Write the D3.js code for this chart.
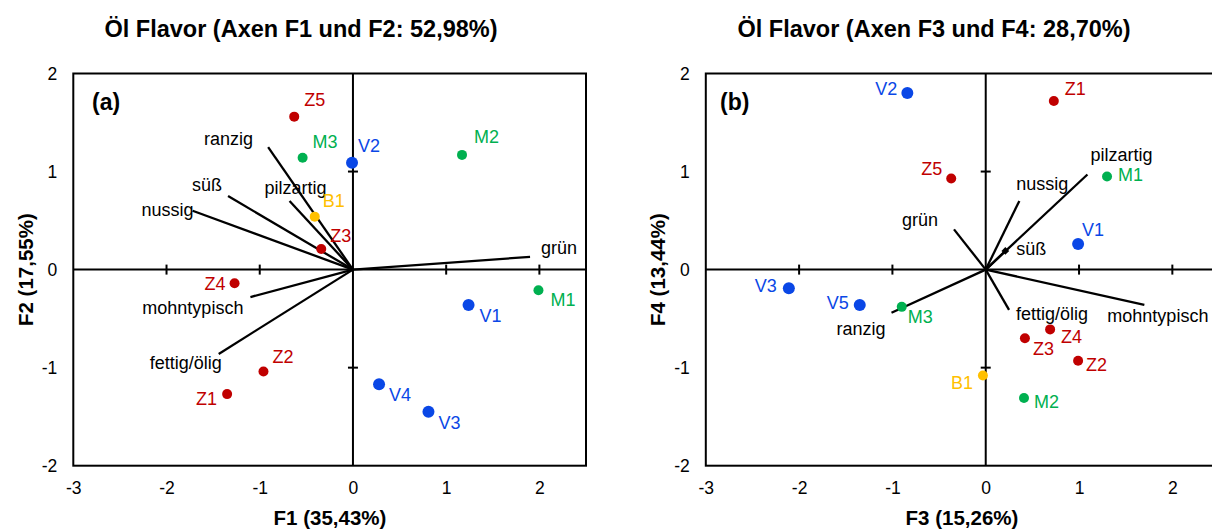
<!DOCTYPE html>
<html><head><meta charset="utf-8">
<script src="https://cdn.jsdelivr.net/npm/d3@7"></script>
<style>body{margin:0;background:#fff}svg{display:block;font-family:"Liberation Sans",Arial,sans-serif}</style>
</head><body><svg id="c" width="1212" height="531"></svg>
<script>
// ---- data ----
const ticksX = [-3, -2, -1, 0, 1, 2];
const ticksY = [-2, -1, 0, 1, 2];
const titles = ["Öl Flavor (Axen F1 und F2: 52,98%)", "Öl Flavor (Axen F3 und F4: 28,70%)"];
const xTitles = ["F1 (35,43%)", "F3 (15,26%)"];
const yTitles = ["F2 (17,55%)", "F4 (13,44%)"];
const panelTags = ["(a)", "(b)"];

const obsA = ["Z1","Z2","Z3","Z4","Z5","M1","M2","M3","V1","V2","V3","V4","B1"];
const obsAx = [-1.35,-0.96,-0.34,-1.27,-0.63,1.99,1.17,-0.54,1.24,-0.01,0.81,0.28,-0.41];
const obsAy = [-1.27,-1.04,0.21,-0.14,1.56,-0.21,1.17,1.14,-0.36,1.09,-1.45,-1.17,0.54];

const varA = ["grün","ranzig","pilzartig","süß","nussig","mohntypisch","fettig/ölig"];
const varAx = [1.90,-0.91,-0.68,-1.34,-1.72,-1.10,-1.44];
const varAy = [0.13,1.25,0.70,0.75,0.60,-0.28,-0.86];

const obsB = ["Z1","Z2","Z3","Z4","Z5","M1","M2","M3","V1","V2","V3","V5","B1"];
const obsBx = [0.73,0.99,0.42,0.69,-0.37,1.30,0.41,-0.90,0.99,-0.84,-2.11,-1.35,-0.03];
const obsBy = [1.72,-0.93,-0.70,-0.61,0.93,0.95,-1.31,-0.38,0.26,1.80,-0.19,-0.36,-1.08];

const varB = ["grün","ranzig","pilzartig","süß","nussig","mohntypisch","fettig/ölig"];
const varBx = [-0.34,-1.01,1.09,0.21,0.36,1.70,0.25];
const varBy = [0.41,-0.44,0.97,0.19,0.70,-0.36,-0.41];

// ---- layout / style ----
const colors = {Z:"#c00000", M:"#00b050", V:"#0a47e6", B:"#ffc000"};
const radius = {Z:5, M:5, V:6, B:5};
const obsLabA = {Z1:[-10,11,"end"],Z2:[9,-9,"start"],Z3:[9,-7,"start"],Z4:[-9,7,"end"],Z5:[10,-11,"start"],
  M1:[12,16,"start"],M2:[12,-12,"start"],M3:[10,-10,"start"],V1:[11,17,"start"],V2:[6,-11,"start"],
  V3:[10,17,"start"],V4:[10,17,"start"],B1:[8,-10,"start"]};
const obsLabB = {Z1:[11,-6,"start"],Z2:[8,10,"start"],Z3:[8,17,"start"],Z4:[11,14,"start"],Z5:[-9,-3,"end"],
  M1:[11,5,"start"],M2:[10,10,"start"],M3:[6,16,"start"],V1:[4,-8,"start"],V2:[-10,2,"end"],
  V3:[-12,4,"end"],V5:[-11,4,"end"],B1:[-10,14,"end"]};
const varLabA = {"ranzig":[-15,-2,"end"],"pilzartig":[-25,-7,"start"],"süß":[-6,-5,"end"],"nussig":[1,5,"end"],
  "grün":[11,-3,"start"],"mohntypisch":[-7,17,"end"],"fettig/ölig":[3,15,"end"]};
const varLabB = {"pilzartig":[3,-13,"start"],"nussig":[-3,-11,"start"],"grün":[-16,-3,"end"],"süß":[11,4,"start"],
  "mohntypisch":[-37,17,"start"],"fettig/ölig":[7,10,"start"],"ranzig":[-6,22,"end"]};

const panels = [
  {x0:73.3, x1:586, obs:obsA, ox:obsAx, oy:obsAy, vars:varA, vx:varAx, vy:varAy, oLab:obsLabA, vLab:varLabA,
   titleX:301, xTitleX:330, yTitleX:33, tagX:92, marker:null},
  {x0:705.8, x1:1219, obs:obsB, ox:obsBx, oy:obsBy, vars:varB, vx:varBx, vy:varBy, oLab:obsLabB, vLab:varLabB,
   titleX:934, xTitleX:962, yTitleX:665, tagX:720, marker:"süß"}
];
const yTop = 73.5, yBot = 465.7;
const svg = d3.select("#c");
const fmt = d => String(d);

panels.forEach((p, i) => {
  const x = d3.scaleLinear().domain([-3, 2.5]).range([p.x0, p.x1]);
  const y = d3.scaleLinear().domain([-2, 2]).range([yBot, yTop]);
  const g = svg.append("g");

  // title
  g.append("text").attr("x", p.titleX).attr("y", 36.5).attr("text-anchor","middle")
    .attr("font-size", 23.5).attr("font-weight","bold").attr("fill","#000").text(titles[i]);

  // frame
  g.append("rect").attr("x", x(-3)).attr("y", y(2)).attr("width", x(2.5)-x(-3)).attr("height", y(-2)-y(2))
    .attr("fill","none").attr("stroke","#000").attr("stroke-width",2);

  // x tick labels via axis
  const xAx = d3.axisBottom(x).tickValues(ticksX).tickSize(0).tickPadding(16).tickFormat(fmt);
  const gx = g.append("g").attr("transform", `translate(0,${yBot})`).call(xAx);
  gx.select(".domain").remove();
  gx.selectAll("text").attr("font-size",17.5).attr("fill","#000").attr("font-family","Liberation Sans, Arial, sans-serif");

  const yAx = d3.axisLeft(y).tickValues(ticksY).tickSize(0).tickPadding(16).tickFormat(fmt);
  const gy = g.append("g").attr("transform", `translate(${x(-3)},0)`).call(yAx);
  gy.select(".domain").remove();
  gy.selectAll("text").attr("font-size",17.5).attr("fill","#000").attr("font-family","Liberation Sans, Arial, sans-serif");

  // zero axes
  g.append("line").attr("x1", x(-3)).attr("x2", x(2.5)).attr("y1", y(0)).attr("y2", y(0)).attr("stroke","#000").attr("stroke-width",2);
  g.append("line").attr("x1", x(0)).attr("x2", x(0)).attr("y1", y(2)).attr("y2", y(-2)).attr("stroke","#000").attr("stroke-width",2);
  ticksX.filter(t => t !== 0 && t !== -3).forEach(t => {
    g.append("line").attr("x1", x(t)).attr("x2", x(t)).attr("y1", y(0)-5).attr("y2", y(0)+5).attr("stroke","#000").attr("stroke-width",2);
  });
  ticksY.filter(t => t !== 0 && Math.abs(t) !== 2).forEach(t => {
    g.append("line").attr("x1", x(0)-5).attr("x2", x(0)+5).attr("y1", y(t)).attr("y2", y(t)).attr("stroke","#000").attr("stroke-width",2);
  });

  // axis titles
  g.append("text").attr("x", p.xTitleX).attr("y", 525).attr("text-anchor","middle")
    .attr("font-size", 20.5).attr("font-weight","bold").text(xTitles[i]);
  g.append("text").attr("transform", `translate(${p.yTitleX},${(yTop+yBot)/2}) rotate(-90)`).attr("text-anchor","middle")
    .attr("font-size", 20.5).attr("font-weight","bold").text(yTitles[i]);

  // panel tag
  g.append("text").attr("x", p.tagX).attr("y", 110).attr("font-size", 23).attr("font-weight","bold").text(panelTags[i]);

  // vectors
  p.vars.forEach((v, k) => {
    g.append("line").attr("x1", x(0)).attr("y1", y(0)).attr("x2", x(p.vx[k])).attr("y2", y(p.vy[k]))
      .attr("stroke","#000").attr("stroke-width",2.3);
    if (p.marker === v) {
      g.append("path").attr("d", d3.symbol(d3.symbolSquare, 30)())
        .attr("transform", `translate(${x(p.vx[k])},${y(p.vy[k])}) rotate(45)`).attr("fill","#000");
    }
    const L = p.vLab[v];
    g.append("text").attr("x", x(p.vx[k]) + L[0]).attr("y", y(p.vy[k]) + L[1]).attr("text-anchor", L[2])
      .attr("font-size", 18).attr("fill","#000").text(v);
  });

  // observations
  p.obs.forEach((o, k) => {
    const grp = o[0];
    g.append("circle").attr("cx", x(p.ox[k])).attr("cy", y(p.oy[k])).attr("r", radius[grp]).attr("fill", colors[grp]);
    const L = p.oLab[o];
    g.append("text").attr("x", x(p.ox[k]) + L[0]).attr("y", y(p.oy[k]) + L[1]).attr("text-anchor", L[2])
      .attr("font-size", 18).attr("fill", colors[grp]).text(o);
  });
});
</script></body></html>
